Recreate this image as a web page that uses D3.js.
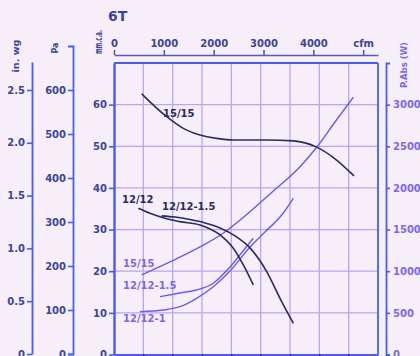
<!DOCTYPE html>
<html>
<head>
<meta charset="utf-8">
<script src="https://cdn.jsdelivr.net/npm/d3@7"></script>
<style>
  body { margin: 0; background: #f6eef8; }
  svg { display: block; }
</style>
</head>
<body>
<div id="chart"></div>
<script>
// flow in m3/h, pressure in mm.c.a., absorbed power in W
const flow1515 = [944, 1797, 2363, 2932, 3501, 4067, 5205, 6113, 6910, 7534, 8182];
const press1515 = [62.6, 57.1, 54.3, 52.7, 51.9, 51.5, 51.5, 51.3, 49.8, 47.0, 42.9];

const flow1212 = [828, 1227, 1739, 2250, 2932, 3614, 4067, 4408, 4749];
const press1212 = [35.1, 33.9, 32.7, 31.9, 31.1, 28.7, 25.5, 21.5, 16.7];

const flow121215 = [1626, 2080, 2591, 3102, 3614, 4125, 4636, 5206, 5659, 6113];
const press121215 = [33.3, 33.0, 32.4, 31.6, 30.4, 28.5, 25.6, 19.9, 13.5, 7.5];

const flowPow1515 = [944, 1909, 2932, 3784, 4466, 5318, 6341, 6910, 7534, 8158];
const pow1515 = [955, 1111, 1291, 1471, 1663, 1928, 2255, 2488, 2792, 3089];

const flowPow121215 = [1568, 2250, 2819, 3385, 3955, 4398, 4749];
const pow121215 = [694, 739, 775, 855, 1051, 1243, 1396];

const flowPow12121 = [886, 1681, 2250, 2819, 3385, 3955, 4636, 5148, 5717, 6113];
const pow12121 = [514, 534, 574, 675, 814, 1003, 1291, 1471, 1675, 1876];

const mmTicks = [0, 10, 20, 30, 40, 50, 60];
const paTicks = [0, 100, 200, 300, 400, 500, 600];
const wgTicks = [0, 0.5, 1.0, 1.5, 2.0, 2.5];
const wTicks = [0, 500, 1000, 1500, 2000, 2500, 3000];
const cfmTicks = [0, 1000, 2000, 3000, 4000, 5000];
const cfmLabels = ["0", "1000", "2000", "3000", "4000", "cfm"];
const gridFlow = [1000, 2000, 3000, 4000, 5000, 6000, 7000, 8000];

const W = 420, H = 356;
const plotL = 114, plotR = 378, plotT = 63, plotB = 354.5;

const axisBlue = "#4a5cf0";
const gridCol = "#b9a4f6";
const darkCurve = "#282c62";
const powCurve = "#6a5cf0";
const labelDark = "#3c44a0";
const labelViolet = "#7a68f0";
const font = "DejaVu Sans, sans-serif";

const svg = d3.select("#chart").append("svg")
  .attr("width", W)
  .attr("height", H);

svg.append("rect").attr("width", W).attr("height", H).attr("fill", "#f6eef8");

// Scales
const x = d3.scaleLinear().domain([0, 9000]).range([plotL, plotR]);
const xCfm = d3.scaleLinear().domain([0, 9000 / 1.699]).range([plotL, plotR]);
const yMm = d3.scaleLinear().domain([0, 70]).range([plotB, plotT]);
const yW = d3.scaleLinear().domain([0, 3500]).range([plotB, plotT]);
const yPa = d3.scaleLinear().domain([0, 700]).range([354, 46]);
const yWg = d3.scaleLinear().domain([0, 2.765]).range([354, 62]);

// Grid
svg.append("g").selectAll("line")
  .data(gridFlow)
  .enter().append("line")
    .attr("x1", d => x(d)).attr("x2", d => x(d))
    .attr("y1", plotT).attr("y2", plotB)
    .attr("stroke", gridCol).attr("stroke-width", 1.3);

svg.append("g").selectAll("line")
  .data(mmTicks.slice(1))
  .enter().append("line")
    .attr("x1", plotL).attr("x2", plotR)
    .attr("y1", d => yMm(d)).attr("y2", d => yMm(d))
    .attr("stroke", gridCol).attr("stroke-width", 1.3);

// Frame (top and right)
svg.append("line").attr("x1", plotL).attr("x2", plotR).attr("y1", plotT).attr("y2", plotT)
  .attr("stroke", axisBlue).attr("stroke-width", 2.2);
svg.append("line").attr("x1", plotR).attr("x2", plotR).attr("y1", plotT).attr("y2", plotB)
  .attr("stroke", axisBlue).attr("stroke-width", 1.8);

function styleAxis(g, col, size) {
  g.selectAll(".domain").attr("stroke", axisBlue).attr("stroke-width", 1.8);
  g.selectAll(".tick line").attr("stroke", axisBlue).attr("stroke-width", 1.6);
  g.selectAll("text").attr("fill", col).attr("font-family", font)
    .attr("font-size", size).attr("font-weight", "bold");
}

// mm.c.a. axis
const gMm = svg.append("g").attr("transform", `translate(${plotL},0)`)
  .call(d3.axisLeft(yMm).tickValues(mmTicks).tickSize(5).tickSizeOuter(0).tickPadding(2));
styleAxis(gMm, labelDark, 10);
gMm.select(".domain").attr("stroke-width", 2.4);

// Pa axis
const gPa = svg.append("g").attr("transform", "translate(73,0)")
  .call(d3.axisLeft(yPa).tickValues(paTicks).tickSize(5).tickSizeOuter(5).tickPadding(2));
styleAxis(gPa, labelDark, 10);

// in. wg axis
const gWg = svg.append("g").attr("transform", "translate(32,0)")
  .call(d3.axisLeft(yWg).tickValues(wgTicks).tickSize(5).tickSizeOuter(0).tickPadding(2)
    .tickFormat(d => d === 0 ? "0" : d3.format(".1f")(d)));
styleAxis(gWg, labelDark, 10);

// Power axis (right)
const gW = svg.append("g").attr("transform", "translate(386,0)")
  .call(d3.axisRight(yW).tickValues(wTicks).tickSize(4).tickSizeOuter(4).tickPadding(3)
    .tickFormat(d3.format("d")));
styleAxis(gW, labelViolet, 10);

// cfm axis (top)
const gCfm = svg.append("g").attr("transform", "translate(0,55)")
  .call(d3.axisTop(xCfm).tickValues(cfmTicks).tickSize(5).tickSizeOuter(0).tickPadding(3)
    .tickFormat((d, i) => cfmLabels[i]));
styleAxis(gCfm, labelDark, 10);
gCfm.select(".domain").attr("stroke", "#5a5ab0").attr("stroke-width", 1.6);
gCfm.selectAll(".tick line").attr("stroke", "#5a5ab0");

// m3/h axis (bottom, mostly cut off)
const gFlow = svg.append("g").attr("transform", `translate(0,${plotB})`)
  .call(d3.axisBottom(x).tickValues(gridFlow).tickSize(4).tickSizeOuter(0).tickFormat(""));
styleAxis(gFlow, labelDark, 10);
gFlow.selectAll(".tick line").attr("stroke", darkCurve);

// Titles
svg.append("text")
  .attr("x", 108).attr("y", 21)
  .attr("font-family", font).attr("font-size", 14).attr("font-weight", "bold")
  .attr("fill", labelDark).text("6T");

function vTitle(tx, ty, txt, len, col, size) {
  svg.append("text")
    .attr("transform", `translate(${tx},${ty}) rotate(-90)`)
    .attr("text-anchor", "middle")
    .attr("font-family", font).attr("font-size", size).attr("font-weight", "bold")
    .attr("fill", col)
    .attr("textLength", len).attr("lengthAdjust", "spacingAndGlyphs")
    .text(txt);
}
vTitle(102, 42, "mm.c.a.", 24, labelDark, 11);
vTitle(58, 48, "Pa", 11, labelDark, 9.5);
vTitle(19, 56, "in. wg", 33, labelDark, 9.5);
vTitle(407, 65, "P.Abs (W)", 46, labelViolet, 9.5);

// Curves
const zip = (xs, ys) => xs.map((v, i) => [v, ys[i]]);
const linePress = d3.line().x(d => x(d[0])).y(d => yMm(d[1])).curve(d3.curveMonotoneX);
const linePow = d3.line().x(d => x(d[0])).y(d => yW(d[1])).curve(d3.curveMonotoneX);

[[flowPow1515, pow1515], [flowPow121215, pow121215], [flowPow12121, pow12121]].forEach(s => {
  svg.append("path")
    .attr("d", linePow(zip(s[0], s[1])))
    .attr("fill", "none").attr("stroke", powCurve).attr("stroke-width", 1.4);
});

[[flow1515, press1515], [flow1212, press1212], [flow121215, press121215]].forEach(s => {
  svg.append("path")
    .attr("d", linePress(zip(s[0], s[1])))
    .attr("fill", "none").attr("stroke", darkCurve).attr("stroke-width", 1.6);
});

// Curve labels
function cLabel(px, py, txt, col) {
  svg.append("text")
    .attr("x", px).attr("y", py)
    .attr("font-family", font).attr("font-size", 10).attr("font-weight", "bold")
    .attr("fill", col).text(txt);
}
cLabel(x(1670), yMm(57.0), "15/15", darkCurve);
cLabel(x(273), yMm(36.4), "12/12", darkCurve);
cLabel(x(1636), yMm(34.7), "12/12-1.5", darkCurve);
cLabel(x(307), yW(1051), "15/15", labelViolet);
cLabel(x(307), yW(787), "12/12-1.5", labelViolet);
cLabel(x(307), yW(390), "12/12-1", labelViolet);
</script>
</body>
</html>
